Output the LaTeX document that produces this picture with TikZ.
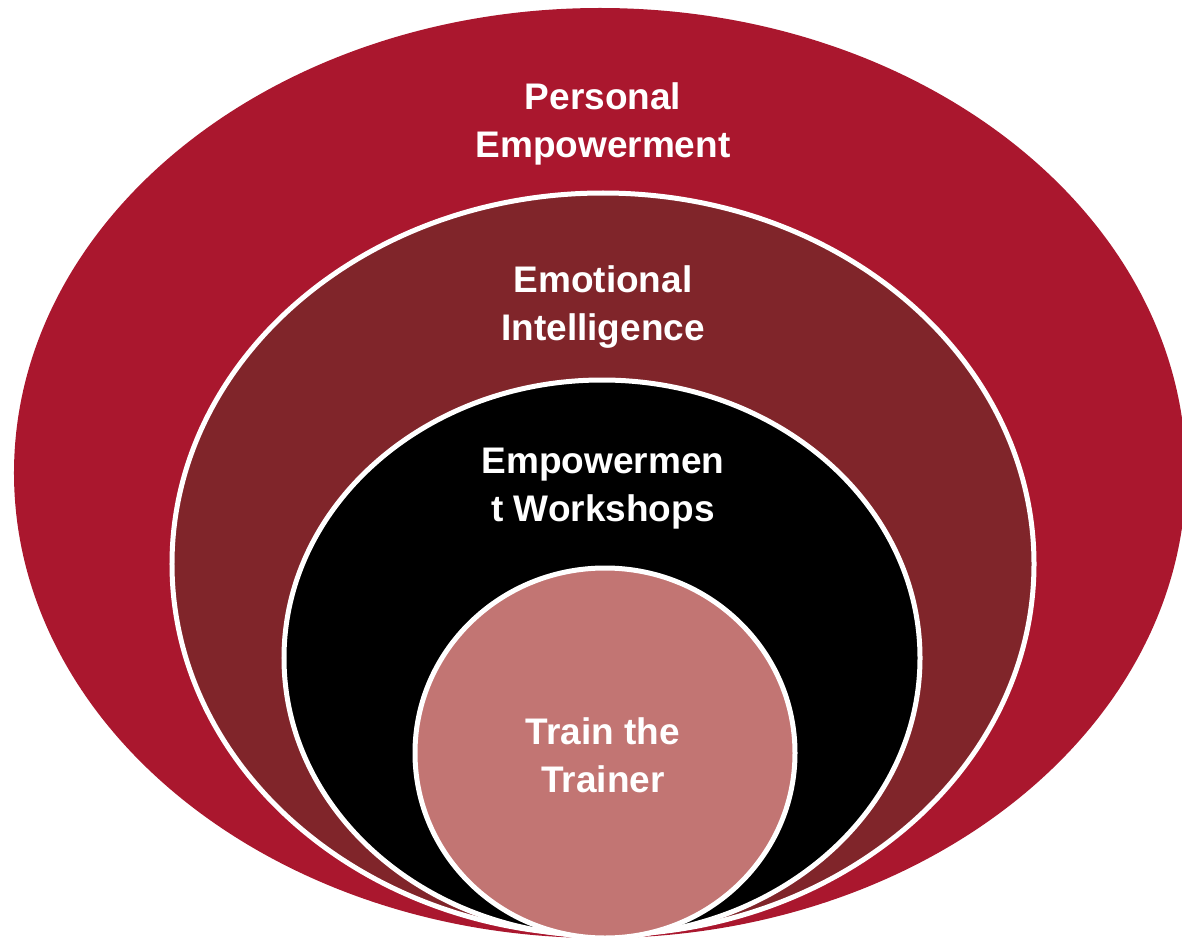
\documentclass[tikz,border=0pt]{standalone}
\usepackage{fontspec}
\setmainfont{Liberation Sans}
\usetikzlibrary{shapes.geometric}
\definecolor{ringA}{HTML}{AA172E}
\definecolor{ringB}{HTML}{80252A}
\definecolor{ringC}{HTML}{000000}
\definecolor{ringD}{HTML}{C27573}
\begin{document}
\begin{tikzpicture}[x=1bp,y=-1bp,
  ring/.style={ellipse, draw=white, line width=5bp, inner sep=0pt, outer sep=0pt},
  label/.style={text=white, align=center, font=\fontsize{37bp}{48bp}\selectfont\bfseries}]
\useasboundingbox (0,0) rectangle (1182,940);
% nested ellipses, all touching at the bottom
\node[ring, draw=none, fill=ringA, minimum width=1172bp, minimum height=930bp] (outer) at (600,473) {};
\node[ring, fill=ringB, minimum width=862bp, minimum height=742bp] (second) at (603,564) {};
\node[ring, fill=ringC, minimum width=636bp, minimum height=556bp] (third) at (602,658) {};
\node[ring, fill=ringD, minimum width=380bp, minimum height=370bp] (core) at (605,753) {};
% labels
\node[label] (tA) at (603,124) {Personal\\Empowerment};
\node[label] (tB) at (603,307) {Emotional\\Intelligence};
\node[label] (tC) at (603,489) {Empowermen\\t Workshops};
\node[label] (tD) at (603,755) {Train the\\Trainer};
\end{tikzpicture}
\end{document}
